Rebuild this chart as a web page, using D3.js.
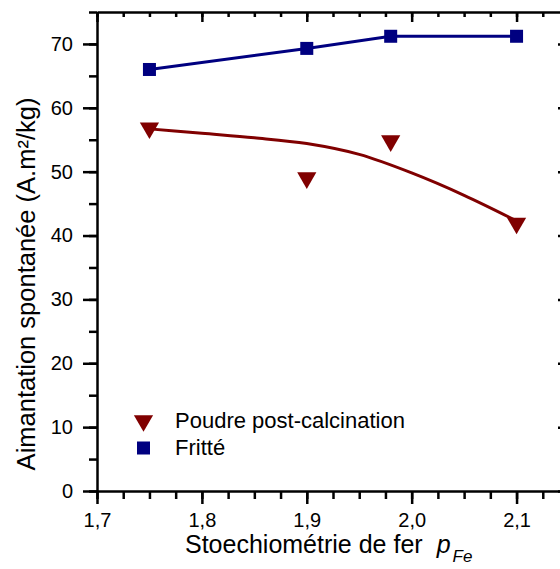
<!DOCTYPE html>
<html>
<head>
<meta charset="utf-8">
<script src="https://cdn.jsdelivr.net/npm/d3@7"></script>
<style>
  body { margin: 0; background: #fff; }
  svg { display: block; font-family: "Liberation Sans", Arial, sans-serif; }
  .axis path, .axis line { stroke: #000; }
  .axis text { fill: #000; font-family: "Liberation Sans", Arial, sans-serif; }
</style>
</head>
<body>
<svg id="chart"></svg>
<script>
// stoechiometry values (x)
const stoechio = [1.75, 1.9, 1.98, 2.1];
// Fritté (sintered), squares
const fritte = [66, 69.3, 71.2, 71.2];
// Poudre post-calcination, triangles
const poudre = [56.4, 48.6, 54.4, 41.5];
// fitted trend line through the powder points
const fitX = [1.75, 1.80, 1.85, 1.90, 1.95, 2.00, 2.05, 2.10];
const fitY = [56.7, 56.0, 55.3, 54.4, 52.7, 49.8, 46.3, 42.3];

const xMajor = [1.7, 1.8, 1.9, 2.0, 2.1];
const yMajor = [0, 10, 20, 30, 40, 50, 60, 70];

const legendLabels = ['Poudre post-calcination', 'Fritté'];

class MagChart {
  constructor(_config) {
    this.config = {
      parentElement: _config.parentElement,
      containerWidth: _config.containerWidth || 560,
      containerHeight: _config.containerHeight || 569,
      margin: { top: 12, bottom: 78, right: -9, left: 97 }
    };
    this.initVis();
  }

  initVis() {
    let vis = this;
    vis.width = vis.config.containerWidth - vis.config.margin.left - vis.config.margin.right;
    vis.height = vis.config.containerHeight - vis.config.margin.top - vis.config.margin.bottom;

    vis.svg = d3.select(vis.config.parentElement)
        .attr('width', vis.config.containerWidth)
        .attr('height', vis.config.containerHeight);

    vis.chart = vis.svg.append('g')
        .attr('transform', `translate(${vis.config.margin.left},${vis.config.margin.top})`);

    vis.xScale = d3.scaleLinear().domain([1.7, 2.15]).range([0, vis.width]);
    vis.yScale = d3.scaleLinear().domain([0, 75]).range([vis.height, 0]);

    vis.updateVis();
  }

  updateVis() {
    let vis = this;
    const x = vis.xScale, y = vis.yScale;
    const fmt = d => d3.format('.1f')(d).replace('.', ',');

    const xMinor = d3.range(1.7, 2.151, 0.025).map(d => +d.toFixed(3));
    const yMinor = d3.range(0, 75.1, 5);

    // minor ticks first
    const minorAxes = [
      [d3.axisBottom(x).tickValues(xMinor).tickSize(8), `translate(0,${vis.height})`],
      [d3.axisLeft(y).tickValues(yMinor).tickSize(8), null],
      [d3.axisTop(x).tickValues(xMinor).tickSize(-5), null],
      [d3.axisRight(y).tickValues(yMinor).tickSize(-5), `translate(${vis.width},0)`]
    ];
    minorAxes.forEach(([ax, tr]) => {
      const g = vis.chart.append('g').attr('class', 'axis')
          .call(ax.tickFormat(''));
      if (tr) g.attr('transform', tr);
      g.select('.domain').remove();
      g.selectAll('line').attr('stroke-width', 2.5);
    });

    // major axes
    vis.xAxisG = vis.chart.append('g').attr('class', 'axis')
        .attr('transform', `translate(0,${vis.height})`)
        .call(d3.axisBottom(x).tickValues(xMajor).tickSize(13).tickSizeOuter(0).tickPadding(9).tickFormat(fmt));
    vis.yAxisG = vis.chart.append('g').attr('class', 'axis')
        .call(d3.axisLeft(y).tickValues(yMajor).tickSize(14).tickSizeOuter(0).tickPadding(10));
    vis.topAxisG = vis.chart.append('g').attr('class', 'axis')
        .call(d3.axisTop(x).tickValues(xMajor).tickSize(-10).tickSizeOuter(0).tickFormat(''));
    vis.rightAxisG = vis.chart.append('g').attr('class', 'axis')
        .attr('transform', `translate(${vis.width},0)`)
        .call(d3.axisRight(y).tickValues(yMajor).tickSize(-11).tickSizeOuter(0).tickFormat(''));

    [vis.xAxisG, vis.yAxisG, vis.topAxisG, vis.rightAxisG].forEach(g => {
      g.attr('font-family', null).attr('font-size', null);
      g.selectAll('line').attr('stroke-width', 2.5);
      g.select('.domain').attr('stroke-width', 2.5);
      g.selectAll('text').style('font-size', '20px');
    });

    // axis titles
    const xt = vis.svg.append('text')
        .attr('x', 185)
        .attr('y', 553)
        .style('font-size', '25px');
    xt.append('tspan').text('Stoechiométrie de fer');
    xt.append('tspan').style('font-style', 'italic').attr('dx', 14).text('p');
    xt.append('tspan').style('font-style', 'italic').style('font-size', '17px')
        .attr('dx', 2).attr('dy', 9).text('Fe');

    vis.svg.append('text')
        .attr('transform', 'translate(35,284) rotate(-90)')
        .style('text-anchor', 'middle')
        .style('font-size', '25.5px')
        .text('Aimantation spontanée (A.m²/kg)');

    vis.renderVis();
  }

  renderVis() {
    let vis = this;
    const x = vis.xScale, y = vis.yScale;
    const blue = '#000080', red = '#800000';

    // fit line for powder
    const fitLine = d3.line()
        .x((d, i) => x(fitX[i]))
        .y(d => y(d))
        .curve(d3.curveMonotoneX);
    vis.chart.append('path')
        .datum(fitY)
        .attr('d', fitLine)
        .attr('fill', 'none')
        .attr('stroke', red)
        .attr('stroke-width', 3);

    // line for sintered
    const line = d3.line()
        .x((d, i) => x(stoechio[i]))
        .y(d => y(d));
    vis.chart.append('path')
        .datum(fritte)
        .attr('d', line)
        .attr('fill', 'none')
        .attr('stroke', blue)
        .attr('stroke-width', 3);

    // downward triangles, centred on their bounding box
    const tri = d3.symbol().type(d3.symbolTriangle).size(160);
    const triShift = Math.sqrt(160 * 4 / Math.sqrt(3)) * Math.sqrt(3) / 2 / 6;
    vis.chart.selectAll('.tri')
        .data(poudre)
        .join('path')
        .attr('class', 'tri')
        .attr('d', tri)
        .attr('transform', (d, i) => `translate(${x(stoechio[i])},${y(d) - triShift}) rotate(180)`)
        .attr('fill', red);

    const sq = 13;
    vis.chart.selectAll('.sq')
        .data(fritte)
        .join('rect')
        .attr('class', 'sq')
        .attr('x', (d, i) => x(stoechio[i]) - sq / 2)
        .attr('y', d => y(d) - sq / 2)
        .attr('width', sq)
        .attr('height', sq)
        .attr('fill', blue);

    // legend
    const leg = vis.svg.append('g');
    leg.append('path')
        .attr('d', tri)
        .attr('transform', `translate(143.5,${423.5 - triShift}) rotate(180)`)
        .attr('fill', red);
    leg.append('rect')
        .attr('x', 137).attr('y', 441.5)
        .attr('width', sq).attr('height', sq)
        .attr('fill', blue);
    leg.selectAll('text')
        .data(legendLabels)
        .join('text')
        .attr('x', 175)
        .attr('y', (d, i) => 428 + i * 27)
        .style('font-size', '22px')
        .text(d => d);
  }
}

new MagChart({ parentElement: '#chart', containerWidth: 560, containerHeight: 569 });
</script>
</body>
</html>
